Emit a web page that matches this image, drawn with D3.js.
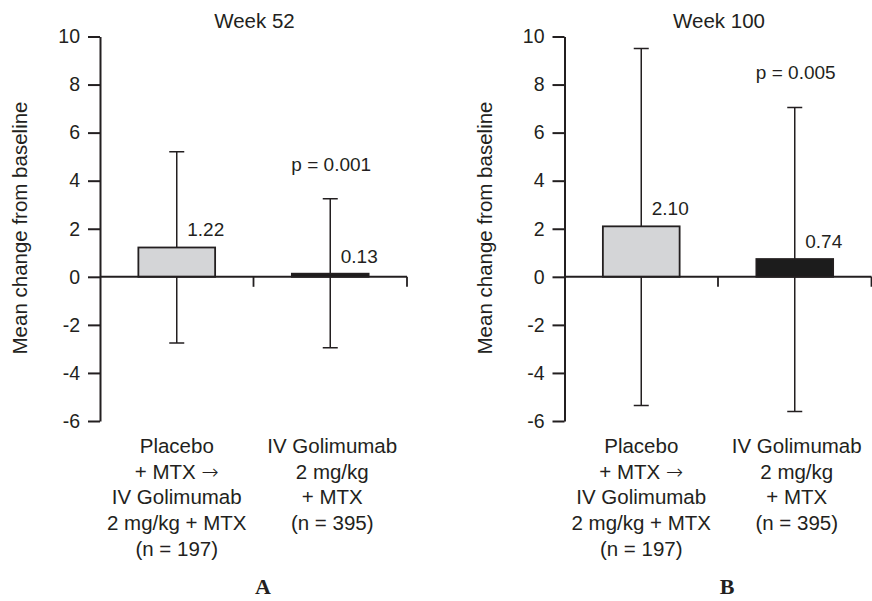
<!DOCTYPE html>
<html>
<head>
<meta charset="utf-8">
<script src="https://cdn.jsdelivr.net/npm/d3@7"></script>
<style>
  body { margin: 0; background: #fff; }
  svg { display: block; font-family: "Liberation Sans", Arial, sans-serif; }
</style>
</head>
<body>
<svg id="chart" width="872" height="601"></svg>
<script>
// data
var groupLabels = [
  ["Placebo", "+ MTX \u2192", "IV Golimumab", "2 mg/kg + MTX", "(n = 197)"],
  ["IV Golimumab", "2 mg/kg", "+ MTX", "(n = 395)"]
];
var panelTitles = ["Week 52", "Week 100"];
var panelLetters = ["A", "B"];
var week52Means = [1.22, 0.13];
var week52Upper = [5.2, 3.25];
var week52Lower = [-2.75, -2.95];
var week100Means = [2.10, 0.74];
var week100Upper = [9.5, 7.05];
var week100Lower = [-5.35, -5.6];
var pValues = ["p = 0.001", "p = 0.005"];
var yTicks = [-6, -4, -2, 0, 2, 4, 6, 8, 10];
var barColors = ["#d4d5d7", "#1c1c1c"];

var svg = d3.select("#chart");
var ink = "#231f20";

function drawPanel(opts) {
  var g = svg.append("g");

  var y = d3.scaleLinear().domain([-6, 10]).range([421, 36.5]);
  var x = d3.scaleBand().domain([0, 1]).range([opts.left, opts.left + 307]);
  var bw = x.bandwidth();

  // title
  g.append("text")
    .attr("x", opts.left + bw + 1)
    .attr("y", 28)
    .attr("text-anchor", "middle")
    .style("font-size", "20.5px")
    .attr("fill", ink)
    .text(opts.title);

  // y axis (plain hyphen for negatives, like the original)
  var yAxis = g.append("g")
    .attr("transform", "translate(" + opts.left + ",0)")
    .call(d3.axisLeft(y).tickValues(yTicks).tickFormat(function (d) { return String(d); })
      .tickSize(12).tickSizeOuter(0).tickPadding(8));
  yAxis.selectAll("path, line").attr("stroke", ink).attr("stroke-width", 2);
  yAxis.selectAll("text").attr("fill", ink).style("font-size", "19.5px")
    .style("font-family", "Liberation Sans, Arial, sans-serif");

  // y label
  g.append("text")
    .attr("transform", "translate(" + (opts.left - 73) + "," + 228 + ") rotate(-90)")
    .attr("text-anchor", "middle")
    .style("font-size", "20.5px")
    .attr("fill", ink)
    .text("Mean change from baseline");

  // error bars (behind the bars)
  var idx = [0, 1];
  g.selectAll(".err").data(idx).enter().append("path")
    .attr("fill", "none")
    .attr("stroke", ink)
    .attr("stroke-width", 1.5)
    .attr("d", function (i) {
      var cx = x(i) + bw / 2;
      return "M" + (cx - 7.5) + "," + y(opts.upper[i]) + "H" + (cx + 7.5) +
        "M" + cx + "," + y(opts.upper[i]) + "V" + y(opts.lower[i]) +
        "M" + (cx - 7.5) + "," + y(opts.lower[i]) + "H" + (cx + 7.5);
    });

  // bars
  g.selectAll(".bar").data(idx).enter().append("rect")
    .attr("x", function (i) { return x(i) + bw / 4; })
    .attr("width", bw / 2)
    .attr("y", function (i) { return y(opts.means[i]); })
    .attr("height", function (i) { return y(0) - y(opts.means[i]); })
    .attr("fill", function (i) { return barColors[i]; })
    .attr("stroke", ink)
    .attr("stroke-width", 1.8);

  // zero line and category boundary ticks
  g.append("line")
    .attr("x1", opts.left).attr("x2", opts.left + 307)
    .attr("y1", y(0)).attr("y2", y(0))
    .attr("stroke", ink).attr("stroke-width", 2);
  g.selectAll(".btick").data(idx).enter().append("line")
    .attr("x1", function (i) { return x(i) + bw; })
    .attr("x2", function (i) { return x(i) + bw; })
    .attr("y1", y(0)).attr("y2", y(0) + 10)
    .attr("stroke", ink).attr("stroke-width", 1.8);

  // value labels
  g.selectAll(".val").data(idx).enter().append("text")
    .attr("x", function (i) { return x(i) + bw / 2 + 29; })
    .attr("y", function (i) { return y(opts.means[i]) - 11; })
    .attr("text-anchor", "middle")
    .style("font-size", "19px")
    .attr("fill", ink)
    .text(function (i) { return opts.means[i].toFixed(2); });

  // p value over the treated group
  g.append("text")
    .attr("x", x(1) + bw / 2 + 1)
    .attr("y", y(opts.upper[1]) - 28)
    .attr("text-anchor", "middle")
    .style("font-size", "19px")
    .attr("fill", ink)
    .text(opts.p);

  // group labels; the arrow gets a font with a longer glyph
  groupLabels.forEach(function (lines, i) {
    var t = g.append("text")
      .attr("text-anchor", "middle")
      .style("font-size", "20.5px")
      .attr("fill", ink);
    lines.forEach(function (s, k) {
      var ts = t.append("tspan")
        .attr("x", x(i) + bw / 2 + (i === 1 ? 2 : 0))
        .attr("y", 453 + k * 25.7);
      var parts = s.split("\u2192");
      ts.append("tspan").text(parts[0]);
      if (parts.length > 1) {
        ts.append("tspan").style("font-family", "DejaVu Sans, sans-serif")
          .style("font-weight", "200").text("\u2192");
      }
    });
  });

  // panel letter
  g.append("text")
    .attr("x", opts.letterX)
    .attr("y", 594)
    .attr("text-anchor", "middle")
    .style("font-family", "Liberation Serif, Times New Roman, serif")
    .style("font-weight", "bold")
    .style("font-size", "22px")
    .attr("fill", ink)
    .text(opts.letter);
}

drawPanel({ left: 100, title: panelTitles[0], means: week52Means, upper: week52Upper,
  lower: week52Lower, p: pValues[0], letter: panelLetters[0], letterX: 263 });
drawPanel({ left: 564.5, title: panelTitles[1], means: week100Means, upper: week100Upper,
  lower: week100Lower, p: pValues[1], letter: panelLetters[1], letterX: 727 });
</script>
</body>
</html>
